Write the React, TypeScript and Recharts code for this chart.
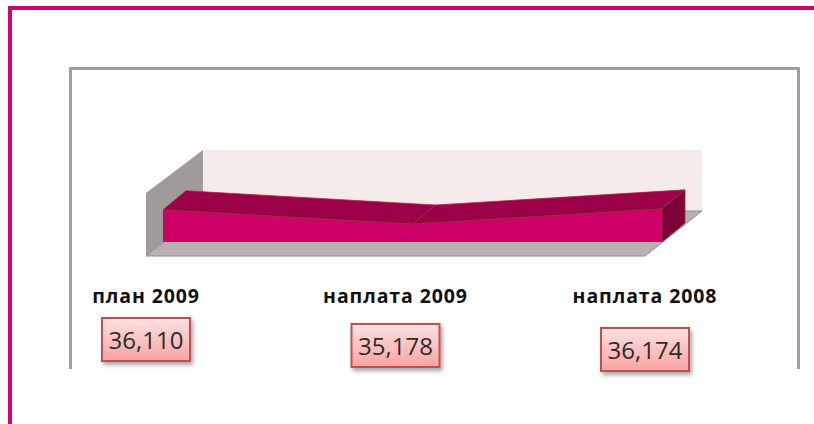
import { Area, ComposedChart, LabelList, ReferenceArea, XAxis, YAxis } from 'recharts';

const categories = ['план 2009', 'наплата 2009', 'наплата 2008'];
const collections = [36110, 35178, 36174];
const axisMin = 34000;
const axisMax = 38000;

const data = categories.map((name, i) => ({ name, value: collections[i] }));

const W = 814;
const H = 424;
const XAXIS_H = 30;
const MARGIN = { top: 181, right: 152, bottom: 182 - XAXIS_H, left: 163 };
const PLOT_BOTTOM = H - MARGIN.bottom - XAXIS_H;

// depth offsets of the fake 3d box
const RIBBON_DEPTH = { dx: 23, dy: -19 };
const FRONT = { dx: -17, dy: 14 };
const BACK = { dx: 40, dy: -31 };
const labelTops = [318, 324, 328];

const pts = (list: number[][]) => list.map((p) => p.join(',')).join(' ');

// walls + floor, drawn from the plot rectangle that the reference area gets
function BoxShape(props: any) {
  const { x, y, width, height } = props;
  const x0 = x;
  const x1 = x + width;
  const top = y;
  const bottom = y + height;
  const backWall = [
    [x0 + BACK.dx, top + BACK.dy],
    [x1 + BACK.dx, top + BACK.dy],
    [x1 + BACK.dx, bottom + BACK.dy],
    [x0 + BACK.dx, bottom + BACK.dy],
  ];
  const floor = [
    [x0 + FRONT.dx, bottom + FRONT.dy],
    [x1 + FRONT.dx, bottom + FRONT.dy],
    [x1 + BACK.dx, bottom + BACK.dy],
    [x0 + BACK.dx, bottom + BACK.dy],
  ];
  const leftWall = [
    [x0 + FRONT.dx, bottom + FRONT.dy],
    [x0 + FRONT.dx, top + FRONT.dy - 2],
    [x0 + BACK.dx, top + BACK.dy],
    [x0 + BACK.dx, bottom + BACK.dy],
  ];
  return (
    <g>
      <polygon points={pts(backWall)} fill="#F6EBEB" />
      <polygon points={pts(leftWall)} fill="#A09A9A" />
      <polygon points={pts(floor)} fill="#B9B1B1" stroke="#8E8E8E" strokeWidth={1} />
    </g>
  );
}

// top and right side faces of the ribbon
function renderRibbon(props: any) {
  const { index, points } = props;
  if (index !== 0 || !points) return <g key={`rib-${index}`} />;
  const { dx, dy } = RIBBON_DEPTH;
  const faces = [];
  for (let i = 0; i < points.length - 1; i++) {
    const a = points[i];
    const b = points[i + 1];
    faces.push(
      <polygon
        key={`top-${i}`}
        points={pts([[a.x, a.y], [b.x, b.y], [b.x + dx, b.y + dy], [a.x + dx, a.y + dy]])}
        fill="#9C0048"
        stroke="#8A3A32"
        strokeWidth={0.8}
      />
    );
  }
  const last = points[points.length - 1];
  faces.push(
    <polygon
      key="side"
      points={pts([
        [last.x, last.y],
        [last.x + dx, last.y + dy],
        [last.x + dx, PLOT_BOTTOM + dy],
        [last.x, PLOT_BOTTOM],
      ])}
      fill="#7E003A"
      stroke="#8A3A32"
      strokeWidth={0.8}
    />
  );
  return <g key="rib-0">{faces}</g>;
}

function CategoryTick(props: any) {
  const { x, payload } = props;
  return (
    <text
      x={x + FRONT.dx}
      y={303}
      textAnchor="middle"
      fontFamily="'Open Sans', sans-serif"
      fontWeight={700}
      fontSize={19.5}
      letterSpacing={0.9}
      fill="#111"
    >
      {payload.value}
    </text>
  );
}

function ValueBox(props: any) {
  const { x, value, index } = props;
  const cx = x + FRONT.dx;
  const top = labelTops[index] ?? 322;
  const w = 88;
  const h = 43;
  return (
    <g>
      <rect x={cx - w / 2} y={top} width={w} height={h} fill="url(#boxFill)" stroke="#C0504D" strokeWidth={2} filter="url(#boxShadow)" />
      <text
        x={cx}
        y={top + h / 2 + 9}
        textAnchor="middle"
        fontFamily="'Open Sans', sans-serif"
        fontSize={24}
        fill="#2b2b2b"
      >
        {Number(value).toLocaleString('en-US')}
      </text>
    </g>
  );
}

export default function App() {
  return (
    <div
      style={{
        position: 'absolute',
        left: 0,
        top: 0,
        width: W,
        height: H,
        overflow: 'hidden',
        background: '#fff',
      }}
    >
      <div
        style={{
          position: 'absolute',
          left: 8,
          top: 6,
          width: 900,
          height: 500,
          borderLeft: '4px solid #D2046E',
          borderTop: '4px solid #D2046E',
        }}
      />
      <div
        style={{
          position: 'absolute',
          left: 69,
          top: 67,
          width: 731,
          height: 302,
          boxSizing: 'border-box',
          borderLeft: '3px solid #A0A0A0',
          borderTop: '3px solid #A0A0A0',
          borderRight: '3px solid #A0A0A0',
        }}
      />
      <div style={{ position: 'absolute', left: 0, top: 0 }}>
        <ComposedChart width={W} height={H} data={data} margin={MARGIN}>
          <defs>
            <linearGradient id="boxFill" x1="0" y1="0" x2="0" y2="1">
              <stop offset="0%" stopColor="#FDE2E2" />
              <stop offset="100%" stopColor="#F8A2A2" />
            </linearGradient>
            <filter id="boxShadow" x="-20%" y="-20%" width="150%" height="160%">
              <feDropShadow dx={2} dy={3} stdDeviation={2} floodColor="#000" floodOpacity={0.35} />
            </filter>
          </defs>
          <XAxis
            dataKey="name"
            scale="point"
            height={XAXIS_H}
            padding={{ left: 0, right: 0 }}
            axisLine={false}
            tickLine={false}
            tick={<CategoryTick />}
            interval={0}
          />
          <YAxis hide type="number" domain={[axisMin, axisMax]} />
          <ReferenceArea
            x1={categories[0]}
            x2={categories[categories.length - 1]}
            y1={axisMin}
            y2={axisMax}
            shape={BoxShape}
            zIndex={-10}
          />
          <Area
            dataKey="value"
            type="linear"
            baseValue={axisMin}
            fill="#CC0066"
            fillOpacity={1}
            stroke="#8A3A32"
            strokeWidth={0.8}
            dot={renderRibbon}
            activeDot={false}
            isAnimationActive={false}
          >
            <LabelList dataKey="value" content={<ValueBox />} />
          </Area>
        </ComposedChart>
      </div>
    </div>
  );
}
